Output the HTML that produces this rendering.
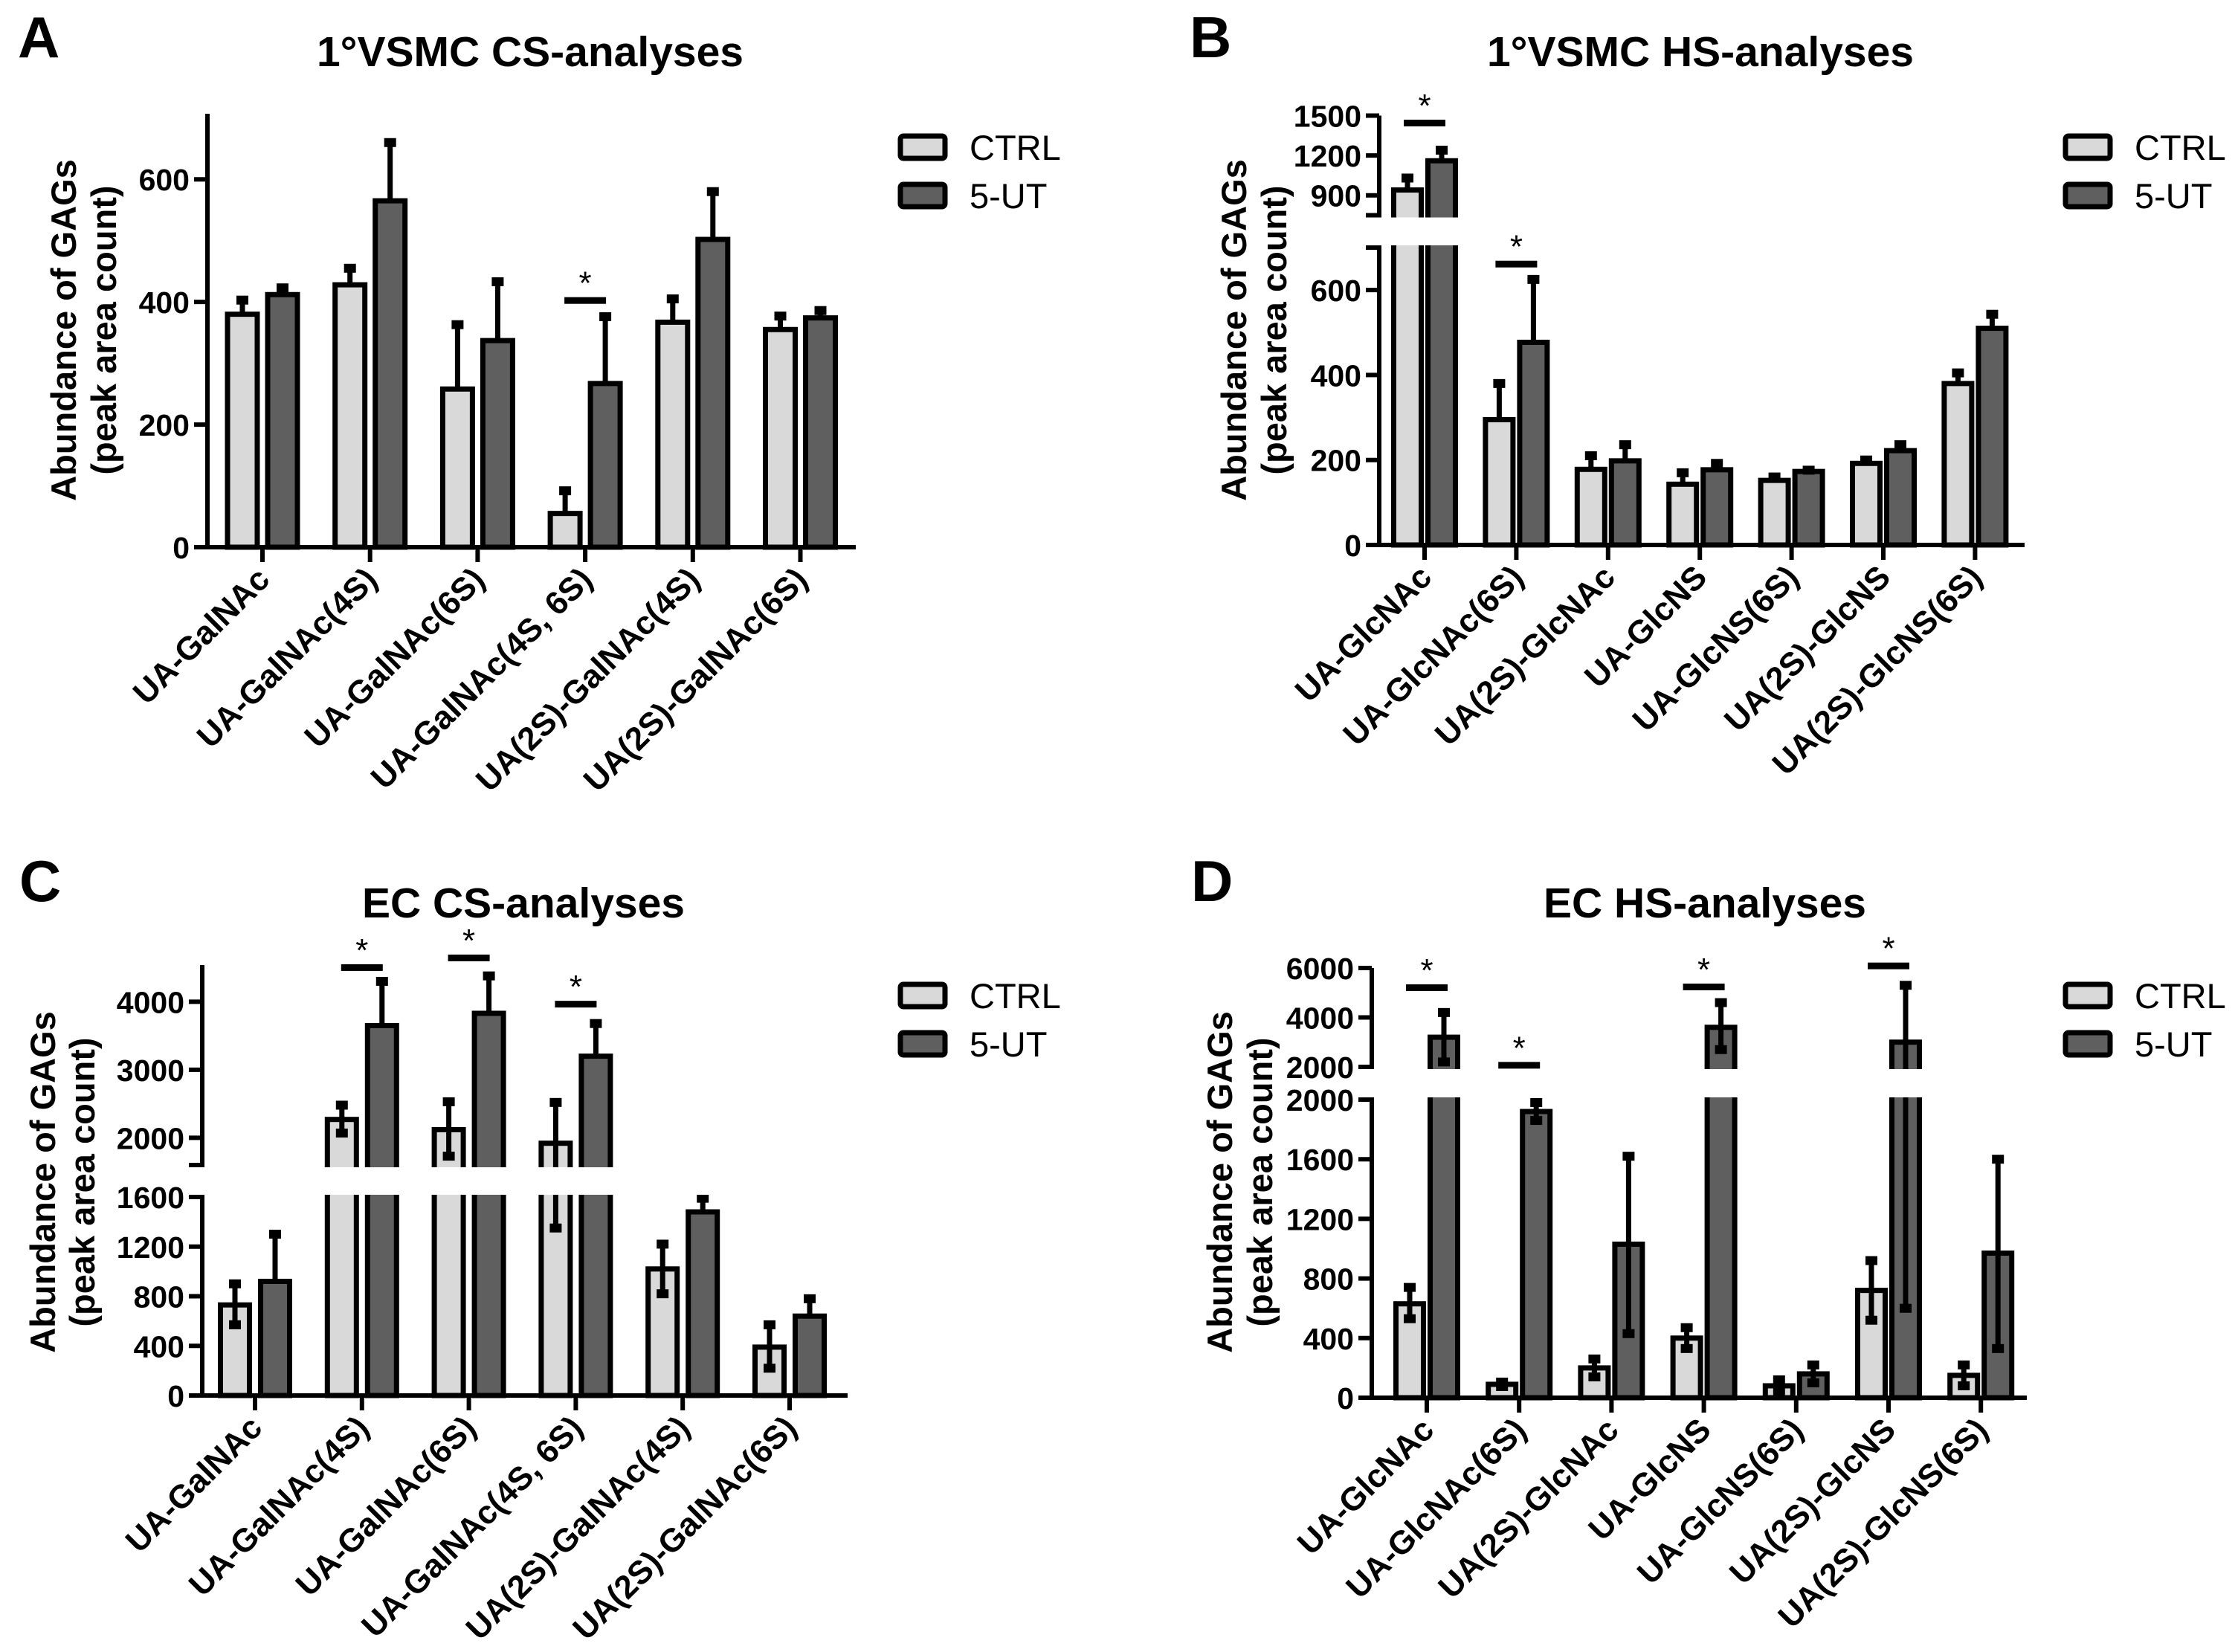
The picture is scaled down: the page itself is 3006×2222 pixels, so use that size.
<!DOCTYPE html>
<html><head><meta charset="utf-8"><style>
html,body{margin:0;padding:0;background:#fff}
svg{display:block;font-family:"Liberation Sans",Arial,sans-serif}
</style></head><body>
<svg id="fig" width="3006" height="2222" viewBox="0 0 3006 2222" xmlns="http://www.w3.org/2000/svg">
<rect x="0" y="0" width="3006" height="2222" fill="#fff"/>
</svg>
<script>
// ---- Panel A data ----
const catsA = ["UA-GalNAc","UA-GalNAc(4S)","UA-GalNAc(6S)","UA-GalNAc(4S, 6S)","UA(2S)-GalNAc(4S)","UA(2S)-GalNAc(6S)"];
const ctrlA = [380,428,258,55,367,355];
const ctrlHiA = [403,455,363,92,405,377];
const ctrlLoA = [380,428,258,55,367,355];
const utA = [412,565,337,267,502,374];
const utHiA = [423,660,433,376,580,386];
const utLoA = [412,565,337,267,502,374];
const sigGroupA = [3];
const sigValA = [403];
const ticksA = [0,200,400,600];
// ---- Panel B data ----
const catsB = ["UA-GlcNAc","UA-GlcNAc(6S)","UA(2S)-GlcNAc","UA-GlcNS","UA-GlcNS(6S)","UA(2S)-GlcNS","UA(2S)-GlcNS(6S)"];
const ctrlB = [940,295,178,143,152,192,380];
const ctrlHiB = [1030,380,210,170,160,200,405];
const ctrlLoB = [940,295,178,143,152,192,380];
const utB = [1160,477,198,177,173,222,510];
const utHiB = [1240,625,236,192,176,236,543];
const utLoB = [1160,477,198,177,173,222,510];
const sigGroupB = [0,1];
const sigValB = [1447,662];
const ticksLowB = [0,200,400,600];
const ticksUpB = [900,1200,1500];
// ---- Panel C data ----
const catsC = catsA;
const ctrlC = [730,2270,2120,1920,1020,390];
const ctrlHiC = [900,2480,2530,2520,1220,570];
const ctrlLoC = [570,2070,1730,1350,820,220];
const utC = [920,3650,3830,3200,1480,640];
const utHiC = [1300,4300,4380,3680,1590,780];
const utLoC = [920,3650,3830,3200,1480,640];
const sigGroupC = [1,2,3];
const sigValC = [4508,4650,3970];
const ticksLowC = [0,400,800,1200,1600];
const ticksUpC = [2000,3000,4000];
// ---- Panel D data ----
const catsD = catsB;
const ctrlD = [630,90,200,400,80,720,150];
const ctrlHiD = [740,105,260,470,120,920,220];
const ctrlLoD = [530,75,140,330,40,520,80];
const utD = [3200,1920,1030,3600,160,3000,970];
const utHiD = [4200,1980,1620,4600,220,5300,1600];
const utLoD = [2200,1860,430,2700,100,600,330];
const sigGroupD = [0,1,3,5];
const sigValD = [5220,2080,5250,6100];
const ticksLowD = [0,400,800,1200,1600,2000];
const ticksUpD = [2000,4000,6000];

const NS = "http://www.w3.org/2000/svg";
const svg = document.getElementById('fig');
function mk(tag, attrs, parent){
  const e = document.createElementNS(NS, tag);
  for (const k in attrs) e.setAttribute(k, attrs[k]);
  (parent||svg).appendChild(e);
  return e;
}

function panel(cfg){
  const g = mk('g', {});
  
  
  const segs = cfg.segs;
  function ymap(v){
    const s0 = segs[0];
    let s = s0;
    if (segs.length > 1 && v >= segs[1].min && v > s0.max) s = segs[1];
    return s.y0 - (v - s.min) * (s.y0 - s.y1) / (s.max - s.min);
  }
  const n = cfg.cats.length;
  const xc = i => cfg.x0 + cfg.step * i;
  const base = segs[0].y0;
  for (let i=0;i<n;i++){
    const series = [[cfg.ctrl, cfg.ctrlHi, cfg.ctrlLo, '#d9d9d9', -cfg.off, 'ctrl'],[cfg.ut, cfg.utHi, cfg.utLo, '#5f5f5f', cfg.off, 'ut']];
    for (const [vals, hi, lo, col, off, nm] of series){
      const cx = xc(i) + off;
      const yt = ymap(vals[i]);
      const r = mk('rect', {x: cx - cfg.bw/2, y: yt, width: cfg.bw, height: base - yt, fill: col, stroke: '#000', 'stroke-width': 7}, g);
      
      
      const yh = ymap(hi[i]), yl = ymap(lo[i]);
      const eb = mk('line', {x1: cx, x2: cx, y1: yh, y2: yl, stroke: '#000', 'stroke-width': 7}, g);
      
      
      mk('rect', {x: cx-8, y: yh-6, width: 16, height: 12, fill: '#000'}, g);
      if (lo[i] < vals[i]) mk('rect', {x: cx-8, y: yl-6, width: 16, height: 12, fill: '#000'}, g);
    }
  }
  const topY = segs[segs.length-1].y1;
  const ya = mk('line', {x1: cfg.ax, x2: cfg.ax, y1: topY, y2: base+3, stroke:'#000', 'stroke-width': 6}, g);
  
  
  const xa = mk('line', {x1: cfg.ax-3, x2: cfg.xEnd, y1: base, y2: base, stroke:'#000', 'stroke-width': 6}, g);
  
  
  if (segs.length > 1){
    mk('rect', {x: cfg.ax-30, y: segs[1].y0+3, width: cfg.xEnd - cfg.ax + 40, height: segs[0].y1 - segs[1].y0 - 6, fill: '#fff'}, g);
    mk('line', {x1: cfg.ax-18, x2: cfg.ax+3, y1: segs[1].y0, y2: segs[1].y0, stroke:'#000','stroke-width':6}, g);
    mk('line', {x1: cfg.ax-18, x2: cfg.ax+3, y1: segs[0].y1, y2: segs[0].y1, stroke:'#000','stroke-width':6}, g);
  }
  const allTicks = [];
  cfg.ticksLow.forEach(t => allTicks.push([t, segs[0]]));
  if (cfg.ticksUp) cfg.ticksUp.forEach(t => allTicks.push([t, segs[1]]));
  for (const [t, s] of allTicks){
    const y = s.y0 - (t - s.min) * (s.y0 - s.y1) / (s.max - s.min);
    mk('line', {x1: cfg.ax-18, x2: cfg.ax, y1: y, y2: y, stroke:'#000','stroke-width':6}, g);
    const tx = mk('text', {x: cfg.ax-24, y: y+15, 'text-anchor':'end','font-size':41,'font-weight':'bold'}, g);
    tx.textContent = t;
    
    
  }
  for (let i=0;i<n;i++){
    const x = xc(i);
    mk('line', {x1: x, x2: x, y1: base, y2: base+20, stroke:'#000','stroke-width':6}, g);
    const lx = x + 12, ly = base + 46;
    const tx = mk('text', {x: lx, y: ly, 'text-anchor':'end','font-size':44,'font-weight':'bold', transform: `rotate(-45 ${lx} ${ly})`}, g);
    tx.textContent = cfg.cats[i];
    
    
  }
  cfg.sigG.forEach((gi, k) => {
    const y = ymap(cfg.sigV[k]);
    const cx = xc(gi);
    const b = mk('rect', {x: cx-28, y: y-4, width: 56, height: 9, fill:'#000'}, g);
    
    
    const st = mk('text', {x: cx, y: y-8, 'text-anchor':'middle','font-size':44}, g);
    st.textContent = '*';
    
    
  });
  const ti = mk('text', {x: cfg.titleX, y: cfg.titleY, 'text-anchor':'middle','font-size':57,'font-weight':'bold'}, g);
  ti.textContent = cfg.title;
  
  
  const le = mk('text', {x: cfg.letterX, y: cfg.letterY, 'font-size':78,'font-weight':'bold'}, g);
  le.textContent = cfg.letter;
  
  
  const [l1x, l2x, cy] = cfg.yt;
  const y1 = mk('text', {x: l1x, y: cy, 'text-anchor':'middle','font-size':47,'font-weight':'bold', transform:`rotate(-90 ${l1x} ${cy})`}, g);
  y1.textContent = 'Abundance of GAGs';
  
  
  const y2 = mk('text', {x: l2x, y: cy, 'text-anchor':'middle','font-size':47,'font-weight':'bold', transform:`rotate(-90 ${l2x} ${cy})`}, g);
  y2.textContent = '(peak area count)';
  
  
  const [lbx, lby] = cfg.leg;
  [['CTRL','#d9d9d9',0],['5-UT','#5f5f5f',65]].forEach(([lab,col,dy]) => {
    const lg = mk('g', {}, g);
    
    
    mk('rect', {x: lbx, y: lby+dy, width: 60, height: 30, rx: 4, fill: col, stroke:'#000','stroke-width':7}, lg);
    const t = mk('text', {x: lbx+93, y: lby+dy+32, 'font-size':47}, lg);
    t.textContent = lab;
  });
}

panel({name:'panel-a', cats:catsA, ctrl:ctrlA, ctrlHi:ctrlHiA, ctrlLo:ctrlLoA, ut:utA, utHi:utHiA, utLo:utLoA,
  sigG:sigGroupA, sigV:sigValA, ticksLow:ticksA, ticksUp:null,
  segs:[{min:0,max:707,y0:736,y1:153}], ax:279, xEnd:1151, x0:353, step:144.7, off:27, bw:40,
  title:'1°VSMC CS-analyses', titleX:713, titleY:89, letter:'A', letterX:24, letterY:77,
  yt:[102,156,444], leg:[1211,183]});
panel({name:'panel-b', cats:catsB, ctrl:ctrlB, ctrlHi:ctrlHiB, ctrlLo:ctrlLoB, ut:utB, utHi:utHiB, utLo:utLoB,
  sigG:sigGroupB, sigV:sigValB, ticksLow:ticksLowB, ticksUp:ticksUpB,
  segs:[{min:0,max:700,y0:733,y1:333},{min:750,max:1500,y0:289.5,y1:155.5}], ax:1855, xEnd:2723, x0:1916, step:123.4, off:23, bw:37,
  title:'1°VSMC HS-analyses', titleX:2287, titleY:89, letter:'B', letterX:1600, letterY:77,
  yt:[1676,1730,444], leg:[2778,183]});
panel({name:'panel-c', cats:catsC, ctrl:ctrlC, ctrlHi:ctrlHiC, ctrlLo:ctrlLoC, ut:utC, utHi:utHiC, utLo:utLoC,
  sigG:sigGroupC, sigV:sigValC, ticksLow:ticksLowC, ticksUp:ticksUpC,
  segs:[{min:0,max:1600,y0:1877,y1:1610},{min:1600,max:4540,y0:1567,y1:1298}], ax:272, xEnd:1140, x0:343, step:143.8, off:27, bw:39,
  title:'EC CS-analyses', titleX:704, titleY:1234, letter:'C', letterX:26, letterY:1212,
  yt:[74,127,1590], leg:[1211,1324]});
panel({name:'panel-d', cats:catsD, ctrl:ctrlD, ctrlHi:ctrlHiD, ctrlLo:ctrlLoD, ut:utD, utHi:utHiD, utLo:utLoD,
  sigG:sigGroupD, sigV:sigValD, ticksLow:ticksLowD, ticksUp:ticksUpD,
  segs:[{min:0,max:2000,y0:1880,y1:1479},{min:2000,max:6000,y0:1435,y1:1302}], ax:1845, xEnd:2726, x0:1919, step:124.2, off:23, bw:37,
  title:'EC HS-analyses', titleX:2293, titleY:1234, letter:'D', letterX:1602, letterY:1212,
  yt:[1657,1711,1590], leg:[2778,1324]});
</script>
</body></html>
